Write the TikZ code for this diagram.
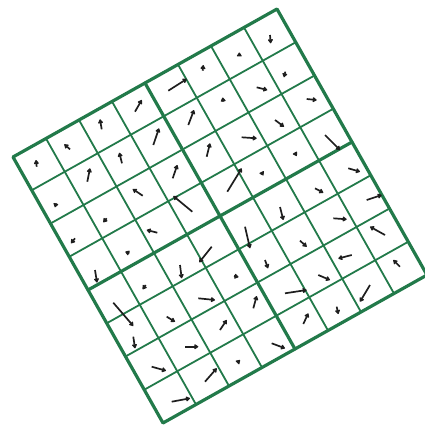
\documentclass[tikz,border=0pt]{standalone}
\usepackage{tikz}
\usetikzlibrary{arrows.meta}
\definecolor{gridgreen}{RGB}{34,122,74}
\definecolor{vecgray}{RGB}{30,30,30}

\begin{document}
\begin{tikzpicture}[x=1pt,y=-1pt,>={Triangle[length=4.5pt,width=5.5pt,round]},
  gridline/.style={draw=gridgreen,line width=1.8pt},
  blockline/.style={draw=gridgreen,line width=3.2pt,line join=round,line cap=round},
  vec/.style={->,draw=vecgray,fill=vecgray,line width=1.7pt}]
\useasboundingbox (0,0) rectangle (425,429);
\begin{scope}[shift={(13,157)},x={(33pt,18.5pt)},y={(18.75pt,-33.25pt)}]
\foreach \k in {1,2,3,5,6,7} {
  \draw[gridline] (\k,0) -- (\k,8);
  \draw[gridline] (0,\k) -- (8,\k);
}
\draw[blockline] (4,0) -- (4,8) (0,4) -- (8,4);
\draw[blockline] (0,0) -- (8,0) -- (8,8) -- (0,8) -- cycle;
\end{scope}
\foreach \xa/\ya/\xb/\yb in {
  36.7/166.7/36/160, 70/149.3/64.3/144.3, 101.7/129.3/100/119.3, 135/111.7/141.7/100,
  168.3/90.7/186.7/79, 202.7/70.7/203.3/65, 239.3/54.5/239.3/52.5, 270/35/270.7/43.3,
  56/203.3/55/207.3, 87.3/181.7/90/168.3, 122/163.3/119.3/152.7, 153.3/145/159/128.3,
  188.3/125/194/110, 223.3/101.7/222.7/97.5, 256.7/87.3/267.3/90, 285.3/71.7/284/77.3,
  75/238.3/71/243.3, 106.7/218.3/103.3/222.3, 142.7/195.7/132.7/189, 172.7/178.3/177.3/165,
  206.7/156.7/210/143.3, 241.7/137.3/256.7/138.3, 275/120/284/126.7, 306.7/99/316.7/100,
  95/270/97/282.5, 129.3/253.3/125.3/251.7, 157.3/232.7/146.7/230, 192.3/211.7/173.3/196,
  227.3/191.7/241.7/168.3, 262/173/263.3/175.5, 295.5/154/296.7/156, 325/135/340/150,
  113.3/302.7/133.3/326, 145.7/285/142.7/289.3, 180/265/181.7/278.3, 211.7/246.7/199.3/262.3,
  245/226.7/250/248.3, 280/207/283.3/220, 315/188.3/323.3/192.7, 348.3/168.3/360/171.7,
  133.3/336.7/135/348.3, 166.7/316.7/175/321.7, 198.3/298.3/215/300, 234/276/238.5/277,
  265/260/268/268.3, 300/240.7/306.7/246.7, 333.3/218.3/346.7/219.3, 366.7/200/381.7/195,
  151.7/366.7/166/370.7, 185/346.7/198.3/346.7, 220/330/226.7/320, 253.3/308.3/256.7/296,
  285/293.3/306.7/290, 318.3/275/330/280, 351.7/255/338.3/258.5, 385/235/370/226.7,
  171.7/401.7/190/398.3, 205/381.7/216.7/368.3, 238.5/361.5/240/360, 271.7/343.3/285/348.3,
  303.3/324/308.3/313.3, 336.7/306.7/338.3/314, 370/285/360/301.7, 400/266.7/393.3/260}
  \draw[vec] (\xa,\ya) -- (\xb,\yb);
\end{tikzpicture}
\end{document}
